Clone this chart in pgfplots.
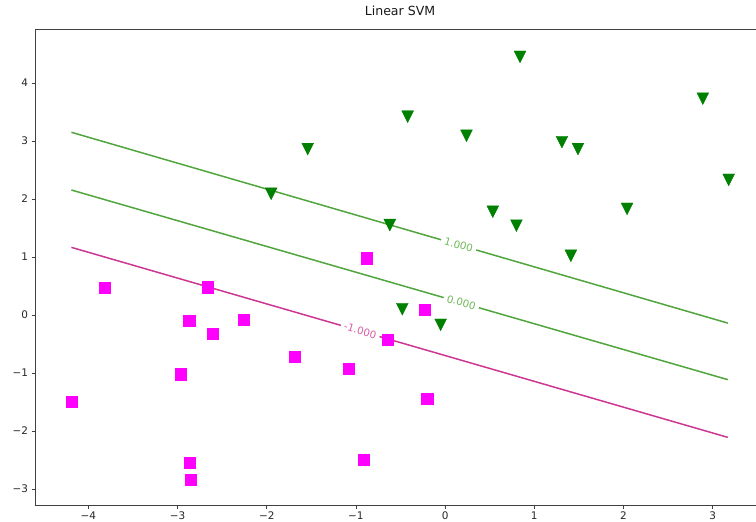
\documentclass[border=0pt]{standalone}
\usepackage{fontspec}
\setmainfont{DejaVu Sans}
\usepackage{pgfplots}
\pgfplotsset{compat=1.18}
\definecolor{mkgreen}{RGB}{0,128,0}
\definecolor{mkmag}{RGB}{255,0,255}
\definecolor{lngreen}{RGB}{80,165,60}
\definecolor{lnpink}{RGB}{205,55,145}
\definecolor{lbgreen}{RGB}{110,185,90}
\definecolor{lbpink}{RGB}{215,95,165}
\pgfdeclareplotmark{tridown}{%
  \pgfpathmoveto{\pgfqpoint{0pt}{-\pgfplotmarksize}}%
  \pgfpathlineto{\pgfqpoint{-\pgfplotmarksize}{\pgfplotmarksize}}%
  \pgfpathlineto{\pgfqpoint{\pgfplotmarksize}{\pgfplotmarksize}}%
  \pgfpathclose
  \pgfusepathqfillstroke
}
\begin{document}
\begin{tikzpicture}
\begin{axis}[name=ax, scale only axis, width=721bp, height=476bp,
  xmin=-4.598, xmax=3.486, ymin=-3.276, ymax=4.931,
  axis x line=box, axis y line=left,
  axis line style={-, black!75, line width=0.8bp},
  xtick={-4,-3,-2,-1,0,1,2,3}, xticklabels={−4,−3,−2,−1,0,1,2,3},
  ytick={-3,-2,-1,0,1,2,3,4}, yticklabels={−3,−2,−1,0,1,2,3,4},
  tick align=outside, xtick pos=left, ytick pos=left,
  major tick length=3.5bp,
  every tick/.style={black!75, line width=0.8bp},
  tick label style={font=\fontsize{10.5}{12}\selectfont, text=black!85},
  title={Linear SVM},
  title style={font=\fontsize{12.6}{14}\selectfont, text=black!90, at={(0.5,1)}, anchor=base, yshift=7.5bp, xshift=4.5bp},
]
% decision function contours
\addplot[lngreen, line width=1.5bp] coordinates {(-4.19,3.15) (3.17,-0.14)}
  node[pos=0.59, sloped, fill=white, inner xsep=3.5bp, inner ysep=1bp, text=lbgreen, font=\fontsize{10.3}{12}\selectfont] {1.000};
\addplot[lngreen, line width=1.5bp] coordinates {(-4.19,2.155) (3.17,-1.115)}
  node[pos=0.594, sloped, fill=white, inner xsep=3.5bp, inner ysep=1bp, text=lbgreen, font=\fontsize{10.3}{12}\selectfont] {0.000};
\addplot[lnpink, line width=1.5bp] coordinates {(-4.19,1.166) (3.17,-2.11)}
  node[pos=0.44, sloped, fill=white, inner xsep=3.5bp, inner ysep=1bp, text=lbpink, font=\fontsize{10.3}{12}\selectfont] {-1.000};
% class +1
\addplot[only marks, mark=tridown, mark size=5.9bp, draw=mkgreen, fill=mkgreen, mark options={line width=0.4bp}] coordinates {
(0.84,4.45) (2.89,3.73) (-0.42,3.42) (0.24,3.09) (1.31,2.98) (1.49,2.86)
(3.18,2.33) (2.04,1.83) (0.535,1.78) (0.80,1.54) (-0.62,1.55) (1.41,1.02)
(-1.54,2.86) (-1.95,2.09) (-0.48,0.10) (-0.05,-0.17)
};
% class -1
\addplot[only marks, mark=square*, mark size=5.6bp, draw=mkmag, fill=mkmag, mark options={line width=0.4bp}] coordinates {
(-3.82,0.47) (-2.66,0.48) (-2.87,-0.10) (-2.61,-0.32) (-2.255,-0.08)
(-1.69,-0.72) (-1.08,-0.93) (-2.96,-1.02) (-4.19,-1.50) (-2.86,-2.54)
(-2.85,-2.84) (-0.91,-2.50) (-0.88,0.98) (-0.23,0.09) (-0.645,-0.43) (-0.20,-1.44)
};
\end{axis}
\pgfresetboundingbox
\path (ax.south west) ++(-35bp,-17bp) rectangle ([yshift=29bp]ax.north east);
\end{tikzpicture}
\end{document}
